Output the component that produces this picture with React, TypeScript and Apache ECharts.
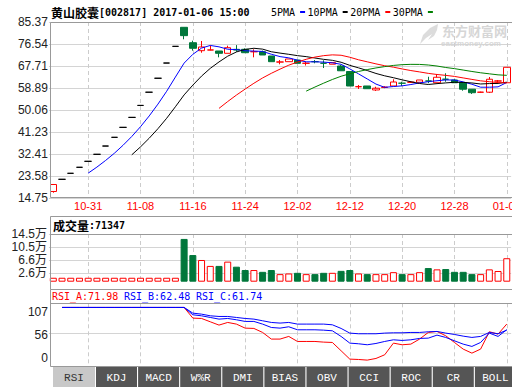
import React, { useEffect, useRef } from 'react';
import * as echarts from 'echarts';

const dates = ['10-25','10-26','10-27','10-28','10-31','11-01','11-02','11-03','11-04','11-07','11-08','11-09','11-10','11-11','11-14','11-15','11-16','11-17','11-18','11-21','11-22','11-23','11-24','11-25','11-28','11-29','11-30','12-01','12-02','12-05','12-06','12-07','12-08','12-09','12-12','12-13','12-14','12-15','12-16','12-19','12-20','12-21','12-22','12-23','12-26','12-27','12-28','12-29','12-30','01-03','01-04','01-05','01-06'];

const opens = [17.36,22.25,24.66,27.07,29.47,32.28,35.6,39.1,43.1,47.1,51.9,57.2,62.8,68.9,75.6,83.24,77.06,73.86,74.13,73.74,72.81,74.4,74.42,73.43,73.45,71.73,69.3,69.45,70.1,68.8,69.47,68.82,68.43,67.71,65.5,59.4,59.7,58.1,59.1,59.7,60.82,61.18,61.2,61.72,61.0,62.42,62.1,61.0,58.4,57.18,57.2,61.68,61.0];
const closes = [20.17,22.25,24.66,27.07,29.47,32.28,35.6,39.1,43.1,47.1,51.9,57.2,62.8,68.9,75.6,79.9,74.82,75.34,74.15,72.81,75.06,74.1,73.05,73.47,72.13,69.45,69.34,70.53,68.8,68.83,69.45,68.8,69.07,65.8,59.69,59.43,58.6,58.8,59.25,61.3,60.8,61.22,62.1,61.7,63.2,62.4,61.0,58.4,57.0,57.22,62.4,61.72,67.2];
const lows = [16.88,22.25,24.66,27.07,29.47,32.28,35.6,39.1,43.1,47.1,51.9,57.2,62.8,68.9,75.6,78.43,73.86,73.05,74.0,71.2,72.8,73.4,73.05,71.2,72.13,69.45,68.4,69.45,68.8,67.9,68.8,66.9,68.43,65.8,59.69,58.5,58.6,57.7,58.8,59.7,59.7,60.9,61.2,60.8,61.0,61.4,61.0,57.8,56.5,57.0,56.9,61.3,61.0];
const highs = [20.17,22.25,24.66,27.07,29.47,32.28,35.6,39.1,43.1,47.1,51.9,57.2,62.8,68.9,75.6,83.24,77.87,77.75,75.9,73.74,75.86,76.1,74.8,74.42,73.9,71.73,70.1,70.53,70.1,69.45,70.1,70.0,69.07,68.1,65.5,60.1,59.7,59.4,59.6,62.4,61.4,61.6,62.1,63.4,64.5,64.8,62.4,61.0,58.4,57.4,63.3,62.1,67.2];

const volumes = [12000,12000,12000,12000,12000,12000,12000,12000,12000,12000,12000,12000,12000,12000,12000,130000,81000,66000,48000,48000,61000,45600,35500,35500,30000,35500,23000,25000,27000,23000,23000,27000,27000,33000,35500,25000,23000,23000,23000,29000,23000,23000,29000,41500,37500,38500,30000,30000,23000,23000,37500,32500,71347];

const rsiA = [null,100,100,100,100,100,100,100,100,100,100,100,100,100,100,100,82.0,81.4,75.8,70.2,74.7,71.9,65.1,64.6,57.8,46.6,46.6,51.1,42.6,42.6,42.6,41.5,40.9,26.9,12.8,12.2,11.1,13.9,20.1,39.8,37.0,38.1,46.6,57.8,59.5,52.2,40.9,29.7,22.9,29.7,59.0,55.0,71.98];
const rsiB = [null,100,100,100,100,100,100,100,100,100,100,100,100,100,100,100,87.6,85.9,83.1,80.3,81.4,79.2,76.4,76.4,71.9,66.2,65.1,67.4,62.3,62.3,62.3,61.7,60.6,51.1,39.8,38.7,37.0,39.2,42.6,45.4,44.3,45.4,47.7,48.2,53.3,49.4,43.7,38.1,34.2,40.9,56.7,51.1,62.48];
const rsiC = [null,100,100,100,100,100,100,100,100,100,100,100,100,100,100,100,90.4,88.7,85.9,84.8,84.8,83.1,81.4,80.3,77.5,74.7,73.6,74.7,71.9,71.9,71.9,71.9,70.7,64.6,56.7,55.6,55.6,55.6,56.7,57.2,57.2,57.8,57.8,58.9,59.5,56.7,54.4,51.6,49.4,51.1,57.8,55.6,61.74];

const priceTicks = [14.75, 23.58, 32.41, 41.23, 50.06, 58.89, 67.71, 76.54, 85.37];
const volTicks = [0, 26000, 66000, 105000, 145000];
const rsiTicks = [0, 56, 107];
const tabs = ['RSI','KDJ','MACD','W%R','DMI','BIAS','OBV','CCI','ROC','CR','BOLL'];

const RED = '#ff0000';
const GREEN = '#00773b';
const BLUE = '#0000ff';
const MONO = "'DejaVu Sans Mono', monospace";
const SANS = "'Liberation Sans', 'Noto Sans CJK SC', sans-serif";
const CJK = "'Noto Sans CJK SC', sans-serif";
const BORDER = '#999999';
const GRIDC = '#d4d4d4';

function movingAvg(n: number) {
  return closes.map((_, i) => {
    if (i < n - 1) return null;
    let s = 0;
    for (let k = i - n + 1; k <= i; k++) s += closes[k];
    return +(s / n).toFixed(3);
  });
}

const showIdx = (i: number) => (i - 4) % 6 === 0;

export default function App() {
  const ref = useRef<HTMLDivElement>(null);
  useEffect(() => {
    document.body.style.margin = '0';
    const chart = echarts.init(ref.current!, null, { renderer: 'svg' });
    const gridLeft = 48.94;
    const gridWidth = 462.2;
    const xBase = (gi: number, labels: boolean) => ({
      type: 'category',
      gridIndex: gi,
      data: dates,
      boundaryGap: true,
      axisLine: { show: false },
      axisTick: { show: false },
      axisLabel: labels
        ? { interval: showIdx, color: RED, fontSize: 11, margin: 2, fontFamily: SANS, hideOverlap: false }
        : { show: false },
      splitLine: {
        show: true,
        interval: showIdx,
        alignWithLabel: true,
        lineStyle: { color: '#cccccc', type: [4, 3], width: 1 },
      },
    });
    const lineS = (name: string, data: any[], color: string, xi: number, yi: number) => ({
      name,
      type: 'line',
      xAxisIndex: xi,
      yAxisIndex: yi,
      data,
      symbol: 'none',
      color,
      lineStyle: { width: 1, color },
      itemStyle: { color },
      connectNulls: false,
      z: 3,
    });

    const frameLines: any[] = [
      [50.5, 22.5, 520, 22.5], [50.5, 22.5, 50.5, 197.5], [50.5, 197.5, 520, 197.5],
      [50.5, 216.5, 520, 216.5], [50.5, 216.5, 50.5, 289.5], [50.5, 234.5, 520, 234.5],
      [50.5, 289.5, 520, 289.5], [50.5, 289.5, 50.5, 366.5], [50.5, 303.5, 520, 303.5], [50.5, 366.5, 520, 366.5],
    ].map(([x1, y1, x2, y2]) => ({
      type: 'line', z: 50, silent: true,
      shape: { x1, y1, x2, y2 },
      style: { stroke: BORDER, lineWidth: 1 },
    }));

    const tabEls: any[] = [];
    tabs.forEach((t, k) => {
      const x = k === 0 ? 53 : 96 + 42.1 * (k - 1);
      const w = k === 0 ? 42 : 41;
      tabEls.push({
        type: 'rect', z: 50, silent: true,
        shape: { x, y: 367, width: w, height: 20 },
        style: { fill: k === 0 ? '#c8c8c8' : '#555555' },
      });
      tabEls.push({
        type: 'text', z: 51, silent: true,
        style: {
          text: t, x: x + w / 2, y: 377.5,
          textAlign: 'center', textVerticalAlign: 'middle',
          fill: k === 0 ? '#333333' : '#ffffff',
          font: "11px 'Liberation Mono', monospace",
        },
      });
    });

    const watermark: any[] = [
      {
        type: 'text', z: 1, silent: true,
        style: { text: '东方财富网', x: 442, y: 30, textAlign: 'left', textVerticalAlign: 'middle', fill: '#d6d6d6', font: "bold 13px 'Noto Sans CJK SC', sans-serif" },
      },
      {
        type: 'text', z: 1, silent: true,
        style: { text: 'eastmoney.com', x: 441, y: 43.5, textAlign: 'left', textVerticalAlign: 'middle', fill: '#d6d6d6', font: "bold 8px 'Liberation Sans', sans-serif" },
      },
      {
        type: 'polygon', z: 1, silent: true,
        shape: { points: [[438, 24], [430, 28], [423, 35], [420, 44], [426, 38], [432, 34], [428, 40], [434, 36], [437, 30]] },
        style: { fill: '#dcdcdc' },
      },
    ];

    const gridBase = { left: gridLeft, width: gridWidth, outerBoundsMode: 'none', containLabel: false };

    const option: any = {
      animation: false,
      backgroundColor: '#ffffff',
      textStyle: { fontFamily: SANS },
      title: [
        {
          left: 51, top: 6, padding: 0,
          text: '{c|黄山胶囊}{a|[002817] 2017-01-06 15:00}',
          textStyle: { rich: { c: { fontFamily: CJK, fontSize: 12, color: '#000' }, a: { fontFamily: MONO, fontSize: 10, color: '#000' } } },
        },
        {
          left: 53, top: 219, padding: 0,
          text: '{c|成交量}{a|:71347}',
          textStyle: { rich: { c: { fontFamily: CJK, fontSize: 12, color: '#000' }, a: { fontFamily: MONO, fontSize: 10, color: '#000' } } },
        },
        { left: 52, top: 291.5, padding: 0, text: 'RSI_A:71.98', textStyle: { fontFamily: MONO, fontSize: 10, fontWeight: 'normal', color: RED } },
        { left: 124, top: 291.5, padding: 0, text: 'RSI_B:62.48', textStyle: { fontFamily: MONO, fontSize: 10, fontWeight: 'normal', color: BLUE } },
        { left: 196, top: 291.5, padding: 0, text: 'RSI_C:61.74', textStyle: { fontFamily: MONO, fontSize: 10, fontWeight: 'normal', color: BLUE } },
      ],
      legend: {
        data: ['5PMA', '10PMA', '20PMA', '30PMA'],
        left: 271, top: 7, padding: 0,
        align: 'right', icon: 'rect', itemWidth: 5, itemHeight: 2, itemGap: 2.5,
        selectedMode: false,
        textStyle: { fontFamily: MONO, fontSize: 10, color: '#000' },
      },
      grid: [
        { ...gridBase, top: 22, height: 176 },
        { ...gridBase, top: 234, height: 47.7 },
        { ...gridBase, top: 303.3, height: 63.4 },
      ],
      xAxis: [xBase(0, true), xBase(1, false), xBase(2, false)],
      yAxis: [
        {
          type: 'value', gridIndex: 0, min: 14.75, max: 85.37, scale: true,
          axisLine: { show: false },
          axisTick: { show: false, customValues: priceTicks },
          axisLabel: { customValues: priceTicks, formatter: (v: number) => v.toFixed(2), color: '#222', fontSize: 12, margin: 1 },
          splitLine: { show: true, lineStyle: { color: GRIDC, width: 1 } },
        },
        {
          type: 'value', gridIndex: 1, min: 0, max: 145000,
          axisLine: { show: false },
          axisTick: { show: false, customValues: volTicks },
          axisLabel: {
            customValues: volTicks,
            formatter: (v: number) => (v === 0 ? '0' : (v / 10000).toFixed(1) + '万'),
            color: '#222', fontSize: 12, margin: 2,
          },
          splitLine: { show: true, showMinLine: false, lineStyle: { color: GRIDC, width: 1 } },
        },
        {
          type: 'value', gridIndex: 2, min: 0, max: 107,
          axisLine: { show: false },
          axisTick: { show: false, customValues: rsiTicks },
          axisLabel: {
            customValues: rsiTicks,
            formatter: (v: number) => (v === 107 ? '{t|107}' : v === 0 ? '{b|0}' : '{m|' + v + '}'),
            color: '#222', fontSize: 12, margin: 1,
            rich: {
              t: { fontSize: 12, color: '#222', padding: [17, 0, 0, 0] },
              b: { fontSize: 12, color: '#222', padding: [0, 0, 18, 0] },
              m: { fontSize: 12, color: '#222', padding: [2, 0, 0, 0] },
            },
          },
          splitLine: { show: true, showMinLine: false, showMaxLine: false, lineStyle: { color: GRIDC, width: 1 } },
        },
      ],
      graphic: [...watermark, ...frameLines, ...tabEls],
      series: [
        {
          name: 'K',
          type: 'candlestick',
          xAxisIndex: 0, yAxisIndex: 0,
          barWidth: 7,
          data: dates.map((_, i) => [opens[i], closes[i], lows[i], highs[i]]),
          itemStyle: {
            color: 'transparent', color0: GREEN,
            borderColor: RED, borderColor0: GREEN, borderColorDoji: '#000000',
            borderWidth: 1,
          },
          z: 2,
        },
        lineS('5PMA', movingAvg(5), BLUE, 0, 0),
        lineS('10PMA', movingAvg(10), '#000000', 0, 0),
        lineS('20PMA', movingAvg(20), RED, 0, 0),
        lineS('30PMA', movingAvg(30), '#008000', 0, 0),
        {
          name: 'VOL',
          type: 'bar',
          xAxisIndex: 1, yAxisIndex: 1,
          barWidth: 7,
          data: volumes.map((v, i) => ({
            value: v,
            itemStyle: closes[i] >= opens[i]
              ? { color: '#ffffff', borderColor: RED, borderWidth: 1 }
              : { color: GREEN, borderColor: GREEN, borderWidth: 1 },
          })),
        },
        lineS('RSI_A', rsiA, RED, 2, 2),
        lineS('RSI_B', rsiB, BLUE, 2, 2),
        lineS('RSI_C', rsiC, BLUE, 2, 2),
      ],
    };
    chart.setOption(option);
    return () => chart.dispose();
  }, []);
  return (
    <div
      ref={ref}
      style={{ position: 'fixed', left: 0, top: 0, width: 512, height: 388, background: '#fff' }}
    />
  );
}
